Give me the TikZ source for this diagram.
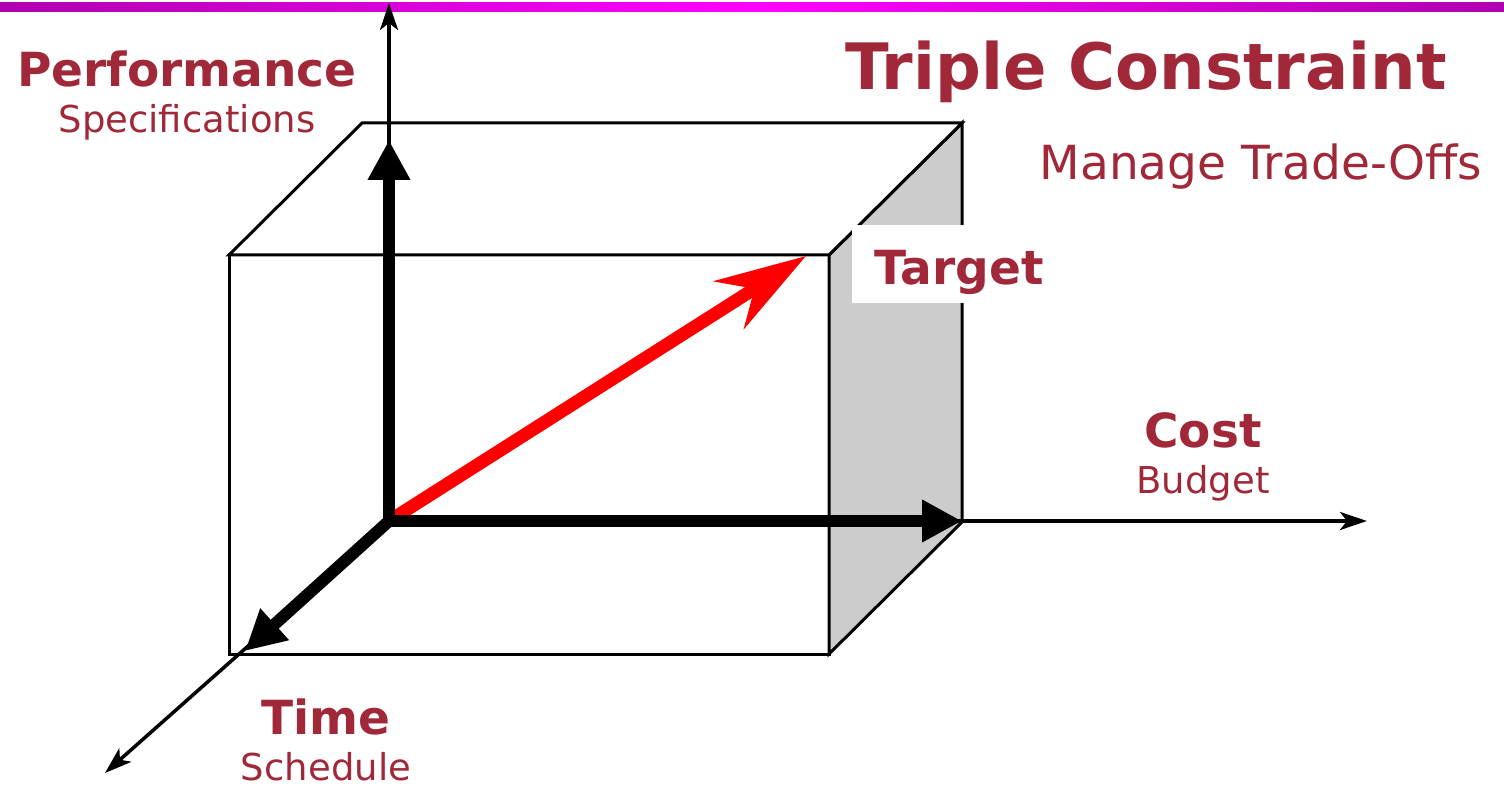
\documentclass[tikz,border=0pt]{standalone}
\usepackage{fontspec}
\setmainfont{DejaVu Sans}
\usetikzlibrary{arrows.meta}
\definecolor{lbl}{RGB}{160,40,56}
\definecolor{sidegrey}{RGB}{204,204,204}
\definecolor{barend}{RGB}{176,0,176}
\definecolor{barmid}{RGB}{255,0,255}
\begin{document}
\begin{tikzpicture}[x=1pt,y=-1pt,
  edge/.style={line width=3pt, line join=miter},
  thinaxis/.style={line width=3.5pt, -{Stealth[length=27pt,width=18pt,inset=7pt]}},
  bighead/.tip={Triangle[length=40pt,width=40pt]},
  thickaxis/.style={line width=12pt},
  bigl/.style={text=lbl, font=\bfseries\fontsize{47}{56}\selectfont, anchor=base, inner sep=0pt},
  smalll/.style={text=lbl, font=\fontsize{37}{44}\selectfont, anchor=base, inner sep=0pt}]
\useasboundingbox (0,0) rectangle (1504,786);
% top bar
\shade[left color=barend, right color=barend, middle color=barmid] (0,3) rectangle (1504,12);
% box
\draw[edge, fill=white] (229,255) rectangle (829,654);
\draw[edge, fill=sidegrey] (829,255) -- (962,123) -- (962,522) -- (829,654) -- cycle;
\draw[edge, fill=white] (229,255) -- (362,123) -- (962,123) -- (829,255) -- cycle;
% target label background
\fill[white] (852,225) rectangle (1050,303);
% coordinates
\coordinate (O) at (389,521);
\coordinate (pend) at (389,3);
\coordinate (ptip) at (389,140);
\coordinate (cend) at (1367,521);
\coordinate (ctip) at (962,521);
\coordinate (tend) at (105,773);
\coordinate (ttip) at (245,651);
\coordinate (rtip) at (806,256);
% red arrow
\draw[red, line width=13pt, -{Stealth[length=91pt,width=56pt,inset=30pt]}] (O) -- (rtip);
% thin axes
\draw[thinaxis] (O) -- (pend);
\draw[thinaxis] (O) -- (cend);
\draw[thinaxis] (O) -- (tend);
% thick axes
\draw[thickaxis, line join=miter, {bighead}-{bighead}] (ptip) -- (O) -- (ctip);
\draw[thickaxis, -{bighead}] (O) -- (ttip);
% labels
\node[bigl] (perf) at (187,87) {Performance};
\node[smalll] (spec) at (187,133) {Specifications};
\node[text=lbl, font=\bfseries\fontsize{64}{76}\selectfont, anchor=base, inner sep=0pt] (title) at (1146,90) {Triple Constraint};
\node[text=lbl, font=\fontsize{47}{56}\selectfont, anchor=base, inner sep=0pt] (sub) at (1261,180) {Manage Trade-Offs};
\node[bigl] (target) at (959,284) {Target};
\node[bigl] (cost) at (1203,447) {Cost};
\node[smalll] (budget) at (1203,493) {Budget};
\node[bigl] (time) at (326,734) {Time};
\node[smalll] (sched) at (326,780) {Schedule};
\end{tikzpicture}
\end{document}
